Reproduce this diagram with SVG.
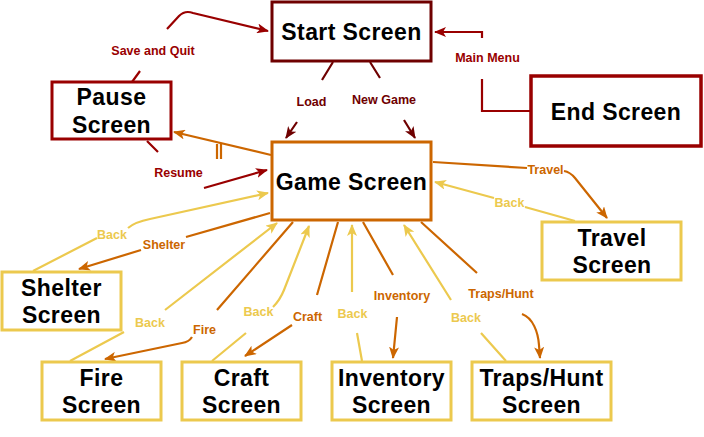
<svg xmlns="http://www.w3.org/2000/svg" width="704" height="437" viewBox="0 0 704 437">
<style>
  .node { fill: #ffffff; stroke-width: 3; }
  .dr { stroke: #6F0000; }
  .rd { stroke: #990000; }
  .or { stroke: #CC6600; }
  .ye { stroke: #ECC94E; }
  .nt { font-family: "Liberation Sans", Arial, sans-serif; font-weight: bold; font-size: 23px; letter-spacing: 0.4px; fill: #000; text-anchor: middle; }
  .edge { fill: none; stroke-width: 2.2; }
  .lbl { font-family: "Liberation Sans", Arial, sans-serif; font-weight: bold; font-size: 12.5px; text-anchor: middle; }
  .lr { fill: #990000; }
  .ld { fill: #6F0000; }
  .lo { fill: #CC6600; }
  .ly { fill: #ECC94E; }
</style>
<defs>
  <marker id="a-rd" viewBox="0 0 12 10" refX="11" refY="5" markerWidth="12" markerHeight="10" markerUnits="userSpaceOnUse" orient="auto"><path d="M0,0 L12,5 L0,10 L3,5 Z" fill="#990000"/></marker>
  <marker id="a-dr" viewBox="0 0 12 10" refX="11" refY="5" markerWidth="12" markerHeight="10" markerUnits="userSpaceOnUse" orient="auto"><path d="M0,0 L12,5 L0,10 L3,5 Z" fill="#6F0000"/></marker>
  <marker id="a-or" viewBox="0 0 12 10" refX="11" refY="5" markerWidth="12" markerHeight="10" markerUnits="userSpaceOnUse" orient="auto"><path d="M0,0 L12,5 L0,10 L3,5 Z" fill="#CC6600"/></marker>
  <marker id="a-ye" viewBox="0 0 12 10" refX="11" refY="5" markerWidth="12" markerHeight="10" markerUnits="userSpaceOnUse" orient="auto"><path d="M0,0 L12,5 L0,10 L3,5 Z" fill="#ECC94E"/></marker>
</defs>
<rect width="704" height="437" fill="#ffffff"/>

<g id="connectors">
  <path class="edge rd" d="M132,82 L140,71 M167,29 L179,16 Q185,10 193,13 L268,31" marker-end="url(#a-rd)"/>
  <path class="edge rd" d="M530,111 L482,111 L482,79 M482,38 L482,32 L435,32" marker-end="url(#a-rd)"/>
  <path class="edge dr" d="M333,62 L322,80 M297,122 L286,138" marker-end="url(#a-dr)"/>
  <path class="edge dr" d="M370,62 L380,78 M404,120 L415,138" marker-end="url(#a-dr)"/>
  <path class="edge or" d="M271,155 L174,132" marker-end="url(#a-or)"/>
  <path class="edge or" d="M217,144 L217,159 M221,144 L221,159"/>
  <path class="edge rd" d="M147,141 L158,152 M204,188 L267,170" marker-end="url(#a-rd)"/>
  <path class="edge or" d="M433,162 L527,168 M564,171 Q570,172 575,178 L607,218" marker-end="url(#a-or)"/>
  <path class="edge ye" d="M575,221 L525,207 M494,198 L435,182" marker-end="url(#a-ye)"/>
  <path class="edge or" d="M270,213 L186,237 M141,250 L79,269" marker-end="url(#a-or)"/>
  <path class="edge ye" d="M33,271 L97,238 M128,228 Q135,222 150,219 L268,193" marker-end="url(#a-ye)"/>
  <path class="edge ye" d="M70,361 L124,332 M165,310 L277,223" marker-end="url(#a-ye)"/>
  <path class="edge or" d="M293,222 L217,310 M192,337 Q189,342 182,343 L105,359" marker-end="url(#a-or)"/>
  <path class="edge ye" d="M212,361 L246,333 M273,307 Q280,300 284,290 L309,226" marker-end="url(#a-ye)"/>
  <path class="edge or" d="M338,222 L317,295 M292,325 L245,356" marker-end="url(#a-or)"/>
  <path class="edge ye" d="M362,361 L357,333 M352,292 L352,225" marker-end="url(#a-ye)"/>
  <path class="edge or" d="M363,222 L393,275 M397,317 L393,358" marker-end="url(#a-or)"/>
  <path class="edge ye" d="M506,361 L481,333 M451,300 L404,225" marker-end="url(#a-ye)"/>
  <path class="edge or" d="M421,222 L477,273 M522,314 C533,318 538,332 539,345 L540,358" marker-end="url(#a-or)"/>

  <text class="lbl lr" x="153" y="54.5">Save and Quit</text>
  <text class="lbl lr" x="487.5" y="62">Main Menu</text>
  <text class="lbl ld" x="311.5" y="106">Load</text>
  <text class="lbl ld" x="384" y="104">New Game</text>
  <text class="lbl lr" x="178.5" y="177">Resume</text>
  <text class="lbl lo" x="545.5" y="173.5">Travel</text>
  <text class="lbl ly" x="509.5" y="206.5">Back</text>
  <text class="lbl ly" x="112" y="238.5">Back</text>
  <text class="lbl lo" x="164" y="249">Shelter</text>
  <text class="lbl ly" x="150" y="327">Back</text>
  <text class="lbl lo" x="204.5" y="333.5">Fire</text>
  <text class="lbl ly" x="258.5" y="315.5">Back</text>
  <text class="lbl lo" x="307.5" y="321">Craft</text>
  <text class="lbl ly" x="352.5" y="317.5">Back</text>
  <text class="lbl lo" x="402" y="300">Inventory</text>
  <text class="lbl ly" x="466" y="321.5">Back</text>
  <text class="lbl lo" x="501" y="297.5">Traps/Hunt</text>
</g>

<g id="start-screen">
  <rect class="node dr" x="272" y="2" width="159" height="59"/>
  <text class="nt" x="351.5" y="40">Start Screen</text>
</g>
<g id="pause-screen">
  <rect class="node rd" x="52" y="82" width="119" height="57"/>
  <text class="nt" x="111.5" y="105">Pause</text>
  <text class="nt" x="111.5" y="133">Screen</text>
</g>
<g id="end-screen">
  <rect class="node rd" x="531" y="76" width="170" height="70" style="stroke-width:3.5"/>
  <text class="nt" x="616" y="119.5">End Screen</text>
</g>
<g id="game-screen">
  <rect class="node or" x="272" y="142" width="159" height="78"/>
  <text class="nt" x="351.5" y="190">Game Screen</text>
</g>
<g id="travel-screen">
  <rect class="node ye" x="542" y="222" width="139" height="58"/>
  <text class="nt" x="612" y="246">Travel</text>
  <text class="nt" x="612" y="273">Screen</text>
</g>
<g id="shelter-screen">
  <rect class="node ye" x="2" y="272" width="119" height="58"/>
  <text class="nt" x="61.5" y="296">Shelter</text>
  <text class="nt" x="61.5" y="323">Screen</text>
</g>
<g id="fire-screen">
  <rect class="node ye" x="42" y="362" width="119" height="58"/>
  <text class="nt" x="101.5" y="386">Fire</text>
  <text class="nt" x="101.5" y="413">Screen</text>
</g>
<g id="craft-screen">
  <rect class="node ye" x="182" y="362" width="119" height="58"/>
  <text class="nt" x="241.5" y="386">Craft</text>
  <text class="nt" x="241.5" y="413">Screen</text>
</g>
<g id="inventory-screen">
  <rect class="node ye" x="332" y="362" width="119" height="58"/>
  <text class="nt" x="391.5" y="386">Inventory</text>
  <text class="nt" x="391.5" y="413">Screen</text>
</g>
<g id="traps-hunt-screen">
  <rect class="node ye" x="472" y="362" width="139" height="58"/>
  <text class="nt" x="541.5" y="386">Traps/Hunt</text>
  <text class="nt" x="541.5" y="413">Screen</text>
</g>
</svg>
